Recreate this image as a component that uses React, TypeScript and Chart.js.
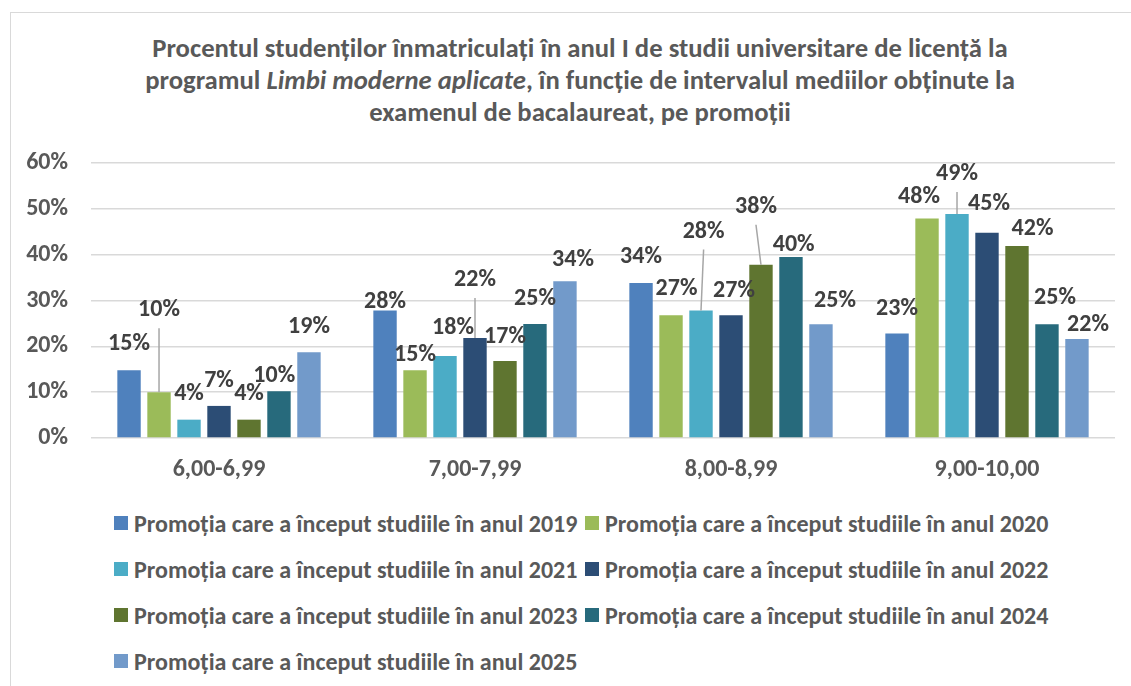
import React, { useEffect, useRef } from "react";
import { Chart, registerables } from "chart.js";

Chart.register(...registerables);

// ---------- data ----------
const categories = ["6,00-6,99", "7,00-7,99", "8,00-8,99", "9,00-10,00"];
const seriesNames = [
  "Promoția care a început studiile în anul 2019",
  "Promoția care a început studiile în anul 2020",
  "Promoția care a început studiile în anul 2021",
  "Promoția care a început studiile în anul 2022",
  "Promoția care a început studiile în anul 2023",
  "Promoția care a început studiile în anul 2024",
  "Promoția care a început studiile în anul 2025",
];
const values2019 = [14.8, 27.8, 33.8, 22.8];
const values2020 = [10.0, 14.8, 26.8, 47.9];
const values2021 = [4.0, 17.9, 27.8, 48.9];
const values2022 = [7.0, 21.8, 26.8, 44.8];
const values2023 = [4.0, 16.8, 37.8, 41.9];
const values2024 = [10.2, 24.9, 39.5, 24.8];
const values2025 = [18.7, 34.2, 24.8, 21.6];
const yTickValues = [0, 10, 20, 30, 40, 50, 60];

// ---------- styles ----------
const seriesValues = [values2019, values2020, values2021, values2022, values2023, values2024, values2025];
const seriesColors = ["#4F81BD", "#9BBB59", "#4BACC6", "#2C4D75", "#5F7530", "#276A7C", "#729ACA"];
// label offset from bar top centre [dx, dy, leader line]
const labelOffsets: [number, number, boolean][][] = [
  [[0, -26, false], [0, -9, false], [0, -26, false], [0, -25, false]],
  [[0, -82, true], [0, -15, false], [5.5, -26, false], [-8, -21, false]],
  [[0, -26, false], [8, -28, false], [2.6, -79, true], [0, -40, true]],
  [[0, -25, false], [0, -58, true], [3, -24, false], [2, -29, false]],
  [[0, -26, false], [0, -24, false], [-5, -58, true], [15.5, -17, false]],
  [[-4.7, -15, false], [0, -25, false], [2.7, -12, false], [8, -26, false]],
  [[0, -25, false], [8, -21, false], [14, -23, false], [11, -14, false]],
];

const FONT = "Carlito, Lato, sans-serif";
const FS = 24;
const TEXT = "#595959";
const LABEL = "#404040";

const labelPlugin = {
  id: "barLabels",
  afterDatasetsDraw(chart: any) {
    const ctx = chart.ctx;
    ctx.save();
    ctx.font = `bold ${FS}px ${FONT}`;
    ctx.textAlign = "center";
    ctx.textBaseline = "middle";
    chart.data.datasets.forEach((ds: any, di: number) => {
      const meta = chart.getDatasetMeta(di);
      meta.data.forEach((el: any, i: number) => {
        const [dx, dy, leader] = labelOffsets[di][i];
        const lx = el.x + dx;
        const ly = el.y + dy;
        if (leader) {
          ctx.strokeStyle = "#A6A6A6";
          ctx.lineWidth = 1.5;
          ctx.beginPath();
          ctx.moveTo(lx, ly + 18);
          ctx.lineTo(el.x, el.y);
          ctx.stroke();
        }
        ctx.fillStyle = LABEL;
        ctx.fillText(Math.round(ds.data[i]) + "%", lx, ly);
      });
    });
    ctx.restore();
  },
};

export default function App() {
  const ref = useRef<HTMLCanvasElement>(null);
  useEffect(() => {
    const chart = new Chart(ref.current!, {
      type: "bar",
      data: {
        labels: categories,
        datasets: seriesNames.map((n, i) => ({
          label: n,
          data: seriesValues[i],
          backgroundColor: seriesColors[i],
          borderWidth: 0,
          categoryPercentage: 0.82,
          barPercentage: 0.78,
        })),
      },
      options: {
        responsive: false,
        animation: false,
        layout: { padding: { top: 23, right: 16, bottom: 0, left: 0 } },
        plugins: { legend: { display: false }, title: { display: false }, tooltip: { enabled: false } },
        scales: {
          x: {
            grid: { display: false },
            border: { display: false },
            ticks: { color: TEXT, font: { family: FONT, size: FS, weight: "bold" }, padding: 10 },
            afterFit: (s: any) => { s.height = 62; s.paddingLeft = 0; s.paddingRight = 0; },
          },
          y: {
            min: 0,
            max: 60,
            afterBuildTicks: (s: any) => { s.ticks = yTickValues.map((v) => ({ value: v })); },
            grid: { color: "#D9D9D9", lineWidth: 1.5, drawTicks: false },
            border: { display: false },
            ticks: { color: TEXT, font: { family: FONT, size: FS, weight: "bold" }, padding: 23, callback: (v: any) => v + "%" },
            afterFit: (s: any) => { s.width = 91; s.paddingTop = 0; s.paddingBottom = 0; },
          },
        },
      },
      plugins: [labelPlugin],
    } as any);
    return () => chart.destroy();
  }, []);

  return (
    <div style={{ position: "fixed", left: 0, top: 0, width: 1131, height: 686, background: "#fff", overflow: "hidden", fontFamily: FONT }}>
      <div style={{ position: "absolute", left: 10, top: 12, width: 1200, height: 800, border: "1.5px solid #D9D9D9" }} />
      <div style={{ position: "absolute", left: 10, top: 32, width: 1140, textAlign: "center", color: TEXT, fontWeight: "bold", fontSize: 26.7, lineHeight: "32px" }}>
        <div>Procentul studenților înmatriculați în anul I de studii universitare de licență la</div>
        <div>programul <i>Limbi moderne aplicate</i>, în funcție de intervalul mediilor obținute la</div>
        <div>examenul de bacalaureat, pe promoții</div>
      </div>
      <canvas ref={ref} width={1131} height={360} style={{ position: "absolute", left: 0, top: 140 }} />
      {seriesNames.map((n, i) => (
        <div key={n} style={{ position: "absolute", left: i % 2 === 0 ? 114 : 585, top: 523 + Math.floor(i / 2) * 46 - 16, height: 32, display: "flex", alignItems: "center", color: TEXT, fontWeight: "bold", fontSize: FS, whiteSpace: "nowrap" }}>
          <span style={{ display: "inline-block", width: 14, height: 14, background: seriesColors[i], marginRight: 6 }} />
          {n}
        </div>
      ))}
    </div>
  );
}
